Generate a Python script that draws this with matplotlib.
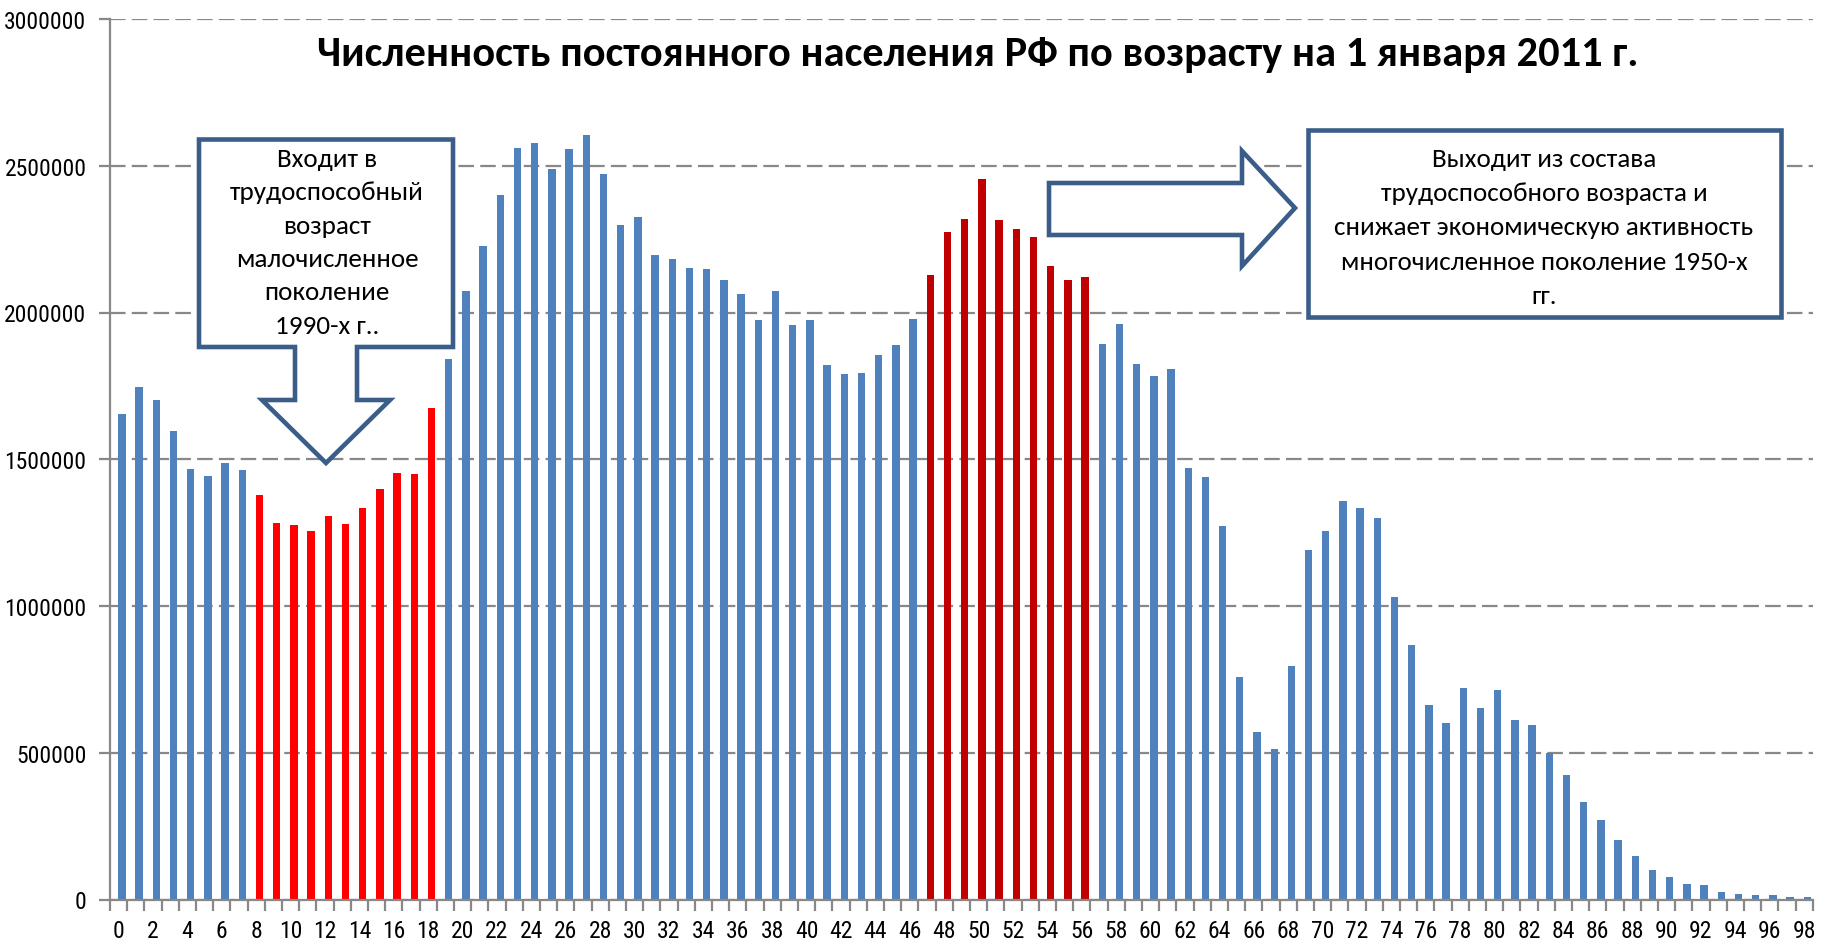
import numpy as np
import matplotlib.pyplot as plt
from matplotlib.patches import Polygon
from matplotlib.transforms import Affine2D

# Численность постоянного населения по возрасту (0..98 лет), чел.
ages = list(range(99))
population = [
    1653000, 1747000, 1701000, 1595000, 1466000, 1443000, 1486000, 1462000, 1377000, 1282000,
    1275000, 1255000, 1306000, 1278000, 1333000, 1398000, 1452000, 1450000, 1674000, 1840000,
    2073000, 2225000, 2401000, 2562000, 2577000, 2489000, 2557000, 2604000, 2471000, 2297000,
    2325000, 2196000, 2182000, 2150000, 2147000, 2110000, 2062000, 1976000, 2074000, 1957000,
    1974000, 1821000, 1790000, 1793000, 1854000, 1889000, 1977000, 2127000, 2274000, 2318000,
    2455000, 2315000, 2284000, 2257000, 2158000, 2110000, 2120000, 1891000, 1960000, 1823000,
    1785000, 1806000, 1470000, 1438000, 1272000, 759000, 572000, 512000, 795000, 1191000,
    1257000, 1358000, 1333000, 1299000, 1030000, 866000, 661000, 602000, 722000, 651000,
    713000, 613000, 595000, 500000, 425000, 331000, 272000, 202000, 147000, 100000,
    77000, 52000, 51000, 25000, 19000, 15000, 14000, 7000, 7000,
]
entering_ages = range(8, 19)   # входят в трудоспособный возраст
leaving_ages = range(47, 57)   # выходят из трудоспособного возраста

y_ticks = [0, 500000, 1000000, 1500000, 2000000, 2500000, 3000000]
x_labels = [str(a) for a in ages if a % 2 == 0]

title = 'Численность постоянного населения РФ по возрасту на 1 января 2011 г.'
left_note = ['Входит в', 'трудоспособный', 'возраст', 'малочисленное', 'поколение', '1990-х г..']
right_note = ['Выходит из состава', 'трудоспособного возраста и',
              'снижает экономическую активность', 'многочисленное поколение 1950-х', 'гг.']

blue = '#4F81BD'
red = '#FF0000'
dark_red = '#C00000'
grey = '#888888'
outline = '#3A5D8A'

colors = []
for a in ages:
    if a in entering_ages:
        colors.append(red)
    elif a in leaving_ages:
        colors.append(dark_red)
    else:
        colors.append(blue)

plt.rcParams['font.family'] = ['Roboto Condensed', 'Archivo Narrow', 'PT Sans Narrow', 'DejaVu Sans']
note_font = ['Carlito', 'Open Sans', 'DejaVu Sans']

W, H = 1834, 945
fig = plt.figure(figsize=(W / 100, H / 100), dpi=100)
ax = fig.add_axes([110 / W, 1 - 900.5 / H, 1702.7 / W, 880.5 / H])

ax.bar(np.array(ages) + 0.19, population, width=0.43, color=colors, zorder=3)
ax.set_xlim(-0.5, 98.5)
ax.set_ylim(0, 3000000)

ax.set_yticks(y_ticks)
ax.set_yticklabels([str(v) for v in y_ticks])
ax.set_xticks([a for a in ages if a % 2 == 0])
ax.set_xticklabels(x_labels)
ax.set_xticks(np.arange(-0.5, 99, 1), minor=True)

ax.yaxis.grid(True, color=grey, linewidth=1.6, linestyle=(0, (7.0, 2.8)))
ax.set_axisbelow(True)
for side in ['top', 'right']:
    ax.spines[side].set_visible(False)
for side in ['left', 'bottom']:
    ax.spines[side].set_color(grey)
    ax.spines[side].set_linewidth(1.6)
    ax.spines[side].set_zorder(4)

ax.tick_params(axis='y', length=8, width=1.6, color=grey, pad=9, labelsize=17)
ax.tick_params(axis='x', which='major', length=0, pad=14, labelsize=17)
ax.tick_params(axis='x', which='minor', length=8, width=1.6, color=grey)

# пиксельные координаты для выносок (от верхнего левого угла)
pix = Affine2D().scale(1 / W, -1 / H).translate(0, 1) + fig.transFigure

callout = [(199, 140.5), (453, 140.5), (453, 348), (357, 348), (357, 401), (390, 401),
           (326, 464), (262, 401), (295, 401), (295, 348), (199, 348)]
arrow = [(1049, 184), (1242, 184), (1242, 152), (1295, 209), (1242, 267), (1242, 236), (1049, 236)]
box = [(1308, 131), (1781, 131), (1781, 318), (1308, 318)]
for pts in [callout, arrow, box]:
    fig.patches.append(Polygon(pts, closed=True, facecolor='white', edgecolor=outline,
                               linewidth=3.3, joinstyle='miter', transform=pix))

for i, line in enumerate(left_note):
    fig.text(327, 167 + i * 33.3, line, transform=pix, ha='center', va='baseline',
             family=note_font, fontsize=19.5)
for i, line in enumerate(right_note):
    fig.text(1544, 167 + i * 34.2, line, transform=pix, ha='center', va='baseline',
             family=note_font, fontsize=19.5)
fig.text(978, 66, title, transform=pix, ha='center', va='baseline',
         family=note_font, fontsize=30.5, fontweight='bold')

fig.savefig('out.png', dpi=100)
